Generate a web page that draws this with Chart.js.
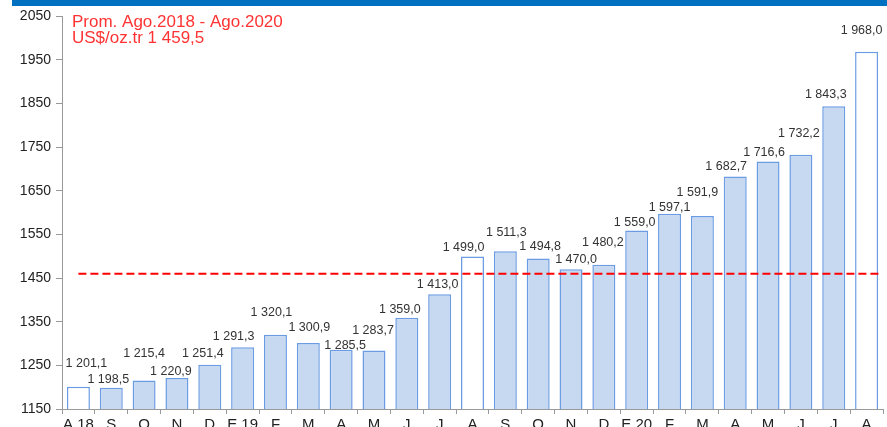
<!DOCTYPE html>
<html>
<head>
<meta charset="utf-8">
<script src="https://cdn.jsdelivr.net/npm/chart.js@4"></script>
<style>
  html, body { margin: 0; padding: 0; background: #fff; overflow: hidden; }
  #wrap { position: relative; width: 887px; height: 445px; }
  #band { position: absolute; left: 12px; top: 0; width: 875px; height: 6px; background: #0070c0; }
</style>
</head>
<body>
<div id="wrap">
  <canvas id="goldChart" width="887" height="445"></canvas>
  <div id="band"></div>
</div>
<script>
// Monthly gold price, Aug 2018 - Aug 2020 (US$/oz.tr)
const months = ['A 18', 'S', 'O', 'N', 'D', 'E 19', 'F', 'M', 'A', 'M', 'J', 'J',
  'A', 'S', 'O', 'N', 'D', 'E 20', 'F', 'M', 'A', 'M', 'J', 'J', 'A'];
const prices = [1201.1, 1198.5, 1215.4, 1220.9, 1251.4, 1291.3, 1320.1, 1300.9, 1285.5, 1283.7, 1359.0, 1413.0,
  1499.0, 1511.3, 1494.8, 1470.0, 1480.2, 1559.0, 1597.1, 1591.9, 1682.7, 1716.6, 1732.2, 1843.3, 1968.0];
const highlighted = [0, 12, 24];   // August bars drawn without fill
const average = 1459.5;
const yTicks = [1150, 1250, 1350, 1450, 1550, 1650, 1750, 1850, 1950, 2050];

// label placement (px) as in the original, labels are staggered
const labelDx = [8, -3, 0, -6, -7, -9, -4, 1, 4, -1, -7, -2, -9, 1, 2, 5, -1, -2, 0, -5, -9, -4, -2, -8, -5];
const labelLift = [23, 8, 27, 6, 11, 11, 22, 16, 4, 20, 8, 10, 9, 19, 12, 10, 22, 8, 6, 23, 10, 9, 21, 12, 21];

const fmt = v => {
  const [i, d] = v.toFixed(1).split('.');
  return i.replace(/\B(?=(\d{3})+(?!\d))/g, ' ') + ',' + d;
};

const extras = {
  id: 'extras',
  afterDatasetsDraw(chart) {
    const { ctx, chartArea, scales } = chart;
    const meta = chart.getDatasetMeta(0);

    // average dashed line
    const y = scales.y.getPixelForValue(average);
    ctx.save();
    ctx.strokeStyle = '#ff0000';
    ctx.lineWidth = 2;
    ctx.setLineDash([8, 4]);
    ctx.beginPath();
    ctx.moveTo(scales.x.getPixelForValue(0), y);
    ctx.lineTo(chartArea.right - 3, y);
    ctx.stroke();
    ctx.restore();

    // value labels
    ctx.save();
    ctx.font = '12.5px "Liberation Sans", Arial, sans-serif';
    ctx.fillStyle = '#333';
    ctx.textAlign = 'center';
    ctx.textBaseline = 'middle';
    meta.data.forEach((bar, i) => {
      ctx.fillText(fmt(prices[i]), bar.x + labelDx[i], bar.y - labelLift[i]);
    });
    ctx.restore();

    // caption
    ctx.save();
    ctx.font = '17px "Liberation Sans", Arial, sans-serif';
    ctx.fillStyle = '#ff3333';
    ctx.textAlign = 'left';
    ctx.textBaseline = 'middle';
    ctx.fillText('Prom. Ago.2018 - Ago.2020', 72, 22.5);
    ctx.fillText('US$/oz.tr ' + fmt(average), 72, 38);
    ctx.restore();
  }
};

new Chart(document.getElementById('goldChart'), {
  type: 'bar',
  data: {
    labels: months,
    datasets: [{
      data: prices,
      backgroundColor: prices.map((_, i) => highlighted.includes(i) ? '#ffffff' : '#c6d9f1'),
      borderColor: '#6a9be3',
      borderWidth: 1.5,
      categoryPercentage: 1,
      barPercentage: 0.7
    }]
  },
  options: {
    responsive: false,
    animation: false,
    layout: { padding: { top: 16, right: 4, left: 0, bottom: 0 } },
    plugins: { legend: { display: false }, tooltip: { enabled: false } },
    scales: {
      x: {
        grid: { offset: true, drawOnChartArea: false, tickLength: 5, color: '#999' },
        border: { color: '#999', width: 1 },
        ticks: { color: '#222', padding: 2, font: { size: 15, family: '"Liberation Sans", Arial, sans-serif' }, maxRotation: 0, autoSkip: false },
        afterFit(scale) { scale.height = 36; }
      },
      y: {
        min: 1150,
        max: 2050,
        afterBuildTicks(scale) { scale.ticks = yTicks.map(v => ({ value: v })); },
        grid: { drawOnChartArea: false, tickLength: 6, color: '#999' },
        border: { color: '#999', width: 1 },
        ticks: {
          color: '#222', padding: 5,
          font: { size: 14, family: '"Liberation Sans", Arial, sans-serif' },
          callback: v => String(v)
        },
        afterFit(scale) { scale.width = 62; }
      }
    }
  },
  plugins: [extras]
});
</script>
</body>
</html>
